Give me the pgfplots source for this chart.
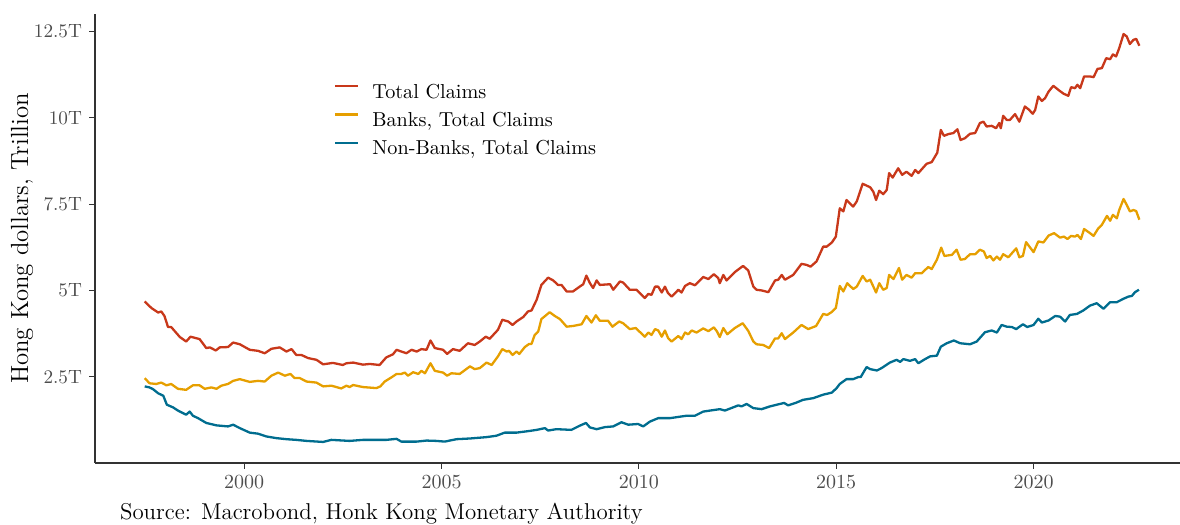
\documentclass[border=0pt]{standalone}
\usepackage{pgfplots}
\pgfplotsset{compat=1.18}

\definecolor{totc}{HTML}{C8381A}
\definecolor{bankc}{HTML}{E69F00}
\definecolor{nbankc}{HTML}{006D8F}
\definecolor{tickgray}{HTML}{4D4D4D}
\definecolor{linegray}{HTML}{333333}

\begin{document}
\begin{tikzpicture}
\useasboundingbox (-47.5pt,-31pt) rectangle (542.5pt,231.5pt);
\begin{axis}[
    scale only axis,
    width=542.5pt, height=224.5pt,
    xmin=1996.22, xmax=2023.71,
    ymin=0, ymax=13.01,
    axis x line*=bottom, axis y line*=left,
    axis line style={linegray, line width=0.6pt, -},
    tick style={linegray, line width=0.6pt},
    tick align=outside, major tick length=3pt,
    xtick={2000,2005,2010,2015,2020},
    ytick={2.5,5,7.5,10,12.5},
    yticklabels={2.5T,5T,7.5T,10T,12.5T},
    xticklabel style={/pgf/number format/1000 sep=, font=\fontsize{9.6}{11}\selectfont, text=tickgray},
    yticklabel style={font=\fontsize{9.6}{11}\selectfont, text=tickgray},
    ylabel={Hong Kong dollars, Trillion},
    ylabel style={at={(axis description cs:0,0.5)}, anchor=center, yshift=36.5pt,
        font=\fontsize{12.4}{14}\selectfont},
    legend image code/.code={\draw[#1, line width=1.1pt] (0pt,3.4pt) -- (11.5pt,3.4pt);},
    legend style={at={(axis description cs:0.2145,0.856)}, anchor=north west,
        draw=none, fill=none, font=\fontsize{10.1}{12}\selectfont,
        row sep=4.1pt, column sep=0pt,
        nodes={text height=7.5pt, text depth=2.5pt, inner ysep=0pt, inner xsep=6.5pt}},
    legend cell align=left,
    every axis plot/.append style={line width=1.15pt, no marks, line join=round},
]
\addplot[totc] coordinates {
(1997.48,4.68)(1997.65,4.49)(1997.82,4.36)(1997.90,4.39)(1997.98,4.26)(1998.07,3.94)(1998.15,3.94)(1998.37,3.65)(1998.53,3.52)(1998.64,3.66)(1998.87,3.59)(1999.04,3.33)(1999.13,3.35)(1999.28,3.26)(1999.38,3.35)(1999.59,3.36)(1999.72,3.49)(1999.89,3.44)
(2000.14,3.28)(2000.35,3.25)(2000.52,3.18)(2000.69,3.31)(2000.90,3.35)(2001.07,3.23)(2001.20,3.30)(2001.32,3.13)(2001.45,3.13)(2001.62,3.04)(2001.83,2.99)(2002.00,2.86)(2002.25,2.90)(2002.50,2.84)(2002.59,2.89)(2002.76,2.91)(2003.01,2.85)(2003.18,2.87)(2003.43,2.84)(2003.60,3.06)(2003.77,3.15)(2003.86,3.28)(2003.98,3.23)
(2004.11,3.18)(2004.24,3.28)(2004.37,3.23)(2004.49,3.30)(2004.62,3.28)(2004.72,3.55)(2004.83,3.33)(2005.04,3.28)(2005.14,3.16)(2005.29,3.30)(2005.46,3.25)(2005.67,3.47)(2005.84,3.42)(2005.97,3.52)(2006.12,3.66)(2006.22,3.60)(2006.43,3.86)(2006.54,4.15)(2006.69,4.10)(2006.80,4.00)(2006.90,4.10)
(2007.07,4.23)(2007.19,4.39)(2007.28,4.42)(2007.41,4.73)(2007.53,5.16)(2007.70,5.37)(2007.83,5.29)(2007.95,5.16)(2008.04,5.16)(2008.17,4.97)(2008.33,4.97)(2008.50,5.11)(2008.59,5.18)(2008.67,5.43)(2008.76,5.21)(2008.84,5.07)(2008.93,5.29)(2009.01,5.16)(2009.27,5.18)(2009.35,5.02)(2009.52,5.26)(2009.60,5.23)(2009.77,5.02)(2009.94,5.02)
(2010.15,4.78)(2010.24,4.90)(2010.32,4.87)(2010.41,5.11)(2010.49,5.11)(2010.58,4.94)(2010.66,5.11)(2010.74,4.92)(2010.83,4.82)(2011.00,5.02)(2011.08,4.94)(2011.17,5.13)(2011.29,5.21)(2011.42,5.15)(2011.63,5.39)(2011.76,5.33)(2011.90,5.47)(2012.01,5.36)(2012.05,5.21)(2012.14,5.45)(2012.22,5.29)(2012.43,5.53)(2012.64,5.71)(2012.77,5.58)(2012.90,5.11)(2012.98,5.02)
(2013.11,5.00)(2013.28,4.95)(2013.45,5.29)(2013.53,5.31)(2013.62,5.45)(2013.70,5.31)(2013.91,5.45)(2014.12,5.77)(2014.25,5.74)(2014.35,5.69)(2014.50,5.84)(2014.67,6.27)(2014.76,6.27)(2014.89,6.39)(2014.99,6.56)(2015.09,7.38)(2015.18,7.29)(2015.26,7.62)(2015.43,7.43)(2015.52,7.58)(2015.67,8.09)(2015.86,7.99)(2015.94,7.86)
(2016.01,7.62)(2016.09,7.89)(2016.19,7.79)(2016.28,7.91)(2016.34,8.40)(2016.43,8.27)(2016.57,8.54)(2016.67,8.35)(2016.78,8.44)(2016.91,8.32)(2017.00,8.49)(2017.08,8.40)(2017.29,8.67)(2017.42,8.72)(2017.56,8.99)(2017.65,9.65)(2017.73,9.48)(2017.84,9.53)(2017.97,9.56)(2018.07,9.67)(2018.15,9.36)(2018.26,9.41)(2018.39,9.54)(2018.52,9.56)
(2018.64,9.85)(2018.73,9.89)(2018.81,9.75)(2018.94,9.77)(2019.05,9.70)(2019.13,9.85)(2019.17,9.70)(2019.23,10.06)(2019.32,9.94)(2019.40,9.94)(2019.53,10.11)(2019.64,9.89)(2019.78,10.33)(2019.87,10.25)(2019.98,10.12)(2020.04,10.23)(2020.12,10.62)(2020.21,10.49)(2020.29,10.57)(2020.38,10.76)(2020.50,10.93)(2020.63,10.81)(2020.76,10.70)(2020.88,10.64)(2020.95,10.89)
(2021.05,10.86)(2021.11,10.96)(2021.18,10.86)(2021.28,11.20)(2021.43,11.20)(2021.52,11.18)(2021.62,11.42)(2021.73,11.44)(2021.84,11.73)(2021.94,11.70)(2022.01,11.84)(2022.09,11.78)(2022.17,12.02)(2022.28,12.43)(2022.36,12.36)(2022.44,12.14)(2022.53,12.26)(2022.60,12.29)(2022.68,12.09)
};
\addlegendentry{Total Claims}
\addplot[bankc] coordinates {
(1997.48,2.46)(1997.60,2.31)(1997.77,2.29)(1997.90,2.33)(1998.03,2.25)(1998.15,2.29)(1998.32,2.15)(1998.53,2.12)(1998.70,2.25)(1998.87,2.25)(1999.00,2.15)(1999.17,2.19)(1999.30,2.15)(1999.42,2.24)(1999.59,2.29)(1999.72,2.38)(1999.89,2.43)
(2000.14,2.35)(2000.35,2.38)(2000.52,2.36)(2000.69,2.53)(2000.86,2.62)(2001.03,2.53)(2001.17,2.58)(2001.28,2.46)(2001.41,2.46)(2001.58,2.36)(2001.83,2.33)(2002.00,2.22)(2002.21,2.24)(2002.46,2.16)(2002.59,2.24)(2002.67,2.20)(2002.76,2.26)(2003.01,2.20)(2003.35,2.17)(2003.45,2.22)(2003.56,2.36)(2003.77,2.51)(2003.86,2.58)
(2003.98,2.58)(2004.07,2.62)(2004.15,2.53)(2004.28,2.63)(2004.41,2.58)(2004.49,2.67)(2004.58,2.60)(2004.72,2.89)(2004.83,2.67)(2005.04,2.62)(2005.14,2.53)(2005.25,2.60)(2005.46,2.58)(2005.72,2.80)(2005.84,2.72)(2005.97,2.75)(2006.14,2.91)(2006.27,2.84)(2006.43,3.09)(2006.54,3.30)(2006.65,3.23)(2006.71,3.25)(2006.80,3.13)(2006.90,3.23)(2006.97,3.16)
(2007.11,3.36)(2007.22,3.45)(2007.28,3.45)(2007.36,3.71)(2007.45,3.81)(2007.53,4.17)(2007.74,4.37)(2007.87,4.26)(2008.00,4.17)(2008.17,3.95)(2008.33,3.97)(2008.55,4.02)(2008.67,4.26)(2008.80,4.07)(2008.91,4.28)(2009.01,4.12)(2009.22,4.12)(2009.33,3.95)(2009.50,4.10)(2009.60,4.05)(2009.77,3.88)(2009.92,3.91)
(2010.15,3.66)(2010.24,3.78)(2010.32,3.71)(2010.41,3.88)(2010.49,3.84)(2010.58,3.66)(2010.66,3.84)(2010.74,3.62)(2010.83,3.52)(2011.00,3.68)(2011.08,3.59)(2011.17,3.78)(2011.25,3.73)(2011.34,3.84)(2011.46,3.78)(2011.63,3.90)(2011.76,3.82)(2011.90,3.93)(2011.98,3.81)(2012.05,3.65)(2012.14,3.91)(2012.24,3.73)(2012.43,3.91)(2012.63,4.05)(2012.77,3.83)(2012.90,3.52)(2012.98,3.44)
(2013.15,3.42)(2013.30,3.33)(2013.45,3.61)(2013.53,3.61)(2013.62,3.76)(2013.70,3.59)(2013.91,3.78)(2014.12,4.00)(2014.29,3.88)(2014.49,3.97)(2014.67,4.32)(2014.77,4.29)(2014.88,4.37)(2014.99,4.49)(2015.09,5.13)(2015.18,4.97)(2015.28,5.21)(2015.43,5.04)(2015.52,5.11)(2015.67,5.42)(2015.77,5.26)(2015.86,5.31)
(2016.01,4.94)(2016.09,5.21)(2016.19,5.02)(2016.28,5.07)(2016.34,5.45)(2016.45,5.33)(2016.59,5.65)(2016.67,5.31)(2016.78,5.45)(2016.91,5.37)(2017.00,5.50)(2017.17,5.50)(2017.33,5.68)(2017.42,5.62)(2017.55,5.89)(2017.66,6.24)(2017.74,6.00)(2017.93,6.03)(2018.05,6.18)(2018.15,5.89)(2018.26,5.91)(2018.39,6.05)(2018.52,6.05)
(2018.64,6.18)(2018.74,6.13)(2018.81,5.94)(2018.90,6.00)(2018.98,5.87)(2019.07,5.98)(2019.15,5.89)(2019.23,6.05)(2019.36,5.96)(2019.56,6.22)(2019.64,5.96)(2019.73,6.00)(2019.81,6.40)(2020.00,6.11)(2020.12,6.42)(2020.25,6.39)(2020.38,6.59)(2020.52,6.66)(2020.67,6.53)(2020.77,6.56)(2020.86,6.49)(2020.95,6.58)
(2021.05,6.56)(2021.11,6.61)(2021.20,6.49)(2021.28,6.78)(2021.43,6.66)(2021.52,6.58)(2021.64,6.80)(2021.73,6.90)(2021.86,7.16)(2021.94,7.02)(2022.01,7.19)(2022.11,7.09)(2022.17,7.33)(2022.28,7.65)(2022.36,7.48)(2022.44,7.29)(2022.53,7.33)(2022.60,7.30)(2022.68,7.05)
};
\addlegendentry{Banks, Total Claims}
\addplot[nbankc] coordinates {
(1997.48,2.22)(1997.60,2.19)(1997.69,2.14)(1997.82,2.02)(1997.95,1.95)(1998.04,1.69)(1998.20,1.61)(1998.32,1.52)(1998.53,1.40)(1998.62,1.49)(1998.70,1.37)(1998.83,1.30)(1999.04,1.16)(1999.30,1.09)(1999.59,1.06)(1999.72,1.11)(1999.89,1.01)
(2000.14,0.88)(2000.35,0.85)(2000.56,0.77)(2000.82,0.72)(2001.07,0.69)(2001.32,0.67)(2001.58,0.64)(2002.00,0.61)(2002.21,0.67)(2002.67,0.64)(2003.01,0.67)(2003.60,0.67)(2003.86,0.70)(2003.98,0.62)(2004.37,0.62)(2004.62,0.65)(2004.87,0.64)(2005.08,0.62)(2005.38,0.69)(2005.72,0.71)
(2006.14,0.75)(2006.39,0.79)(2006.60,0.88)(2006.90,0.88)(2007.24,0.93)(2007.41,0.96)(2007.62,1.01)(2007.70,0.94)(2007.91,0.98)(2008.29,0.96)(2008.50,1.08)(2008.66,1.16)(2008.76,1.03)(2008.93,0.98)(2009.14,1.04)(2009.35,1.06)(2009.56,1.18)(2009.73,1.11)(2009.98,1.13)
(2010.11,1.06)(2010.28,1.20)(2010.49,1.30)(2010.79,1.30)(2011.21,1.37)(2011.42,1.37)(2011.63,1.49)(2012.05,1.56)(2012.18,1.52)(2012.52,1.67)(2012.60,1.64)(2012.73,1.71)(2012.90,1.59)(2013.11,1.56)(2013.32,1.64)(2013.57,1.71)(2013.68,1.74)(2013.78,1.67)(2013.99,1.75)
(2014.16,1.83)(2014.42,1.88)(2014.67,1.98)(2014.89,2.04)(2015.01,2.17)(2015.09,2.29)(2015.26,2.43)(2015.43,2.43)(2015.56,2.49)(2015.62,2.49)(2015.77,2.78)(2015.86,2.72)(2016.03,2.68)(2016.15,2.75)(2016.36,2.91)(2016.53,2.99)(2016.62,2.93)(2016.70,3.01)(2016.87,2.96)
(2017.00,3.01)(2017.08,2.89)(2017.25,3.01)(2017.38,3.09)(2017.55,3.11)(2017.65,3.37)(2017.80,3.47)(2017.98,3.55)(2018.14,3.47)(2018.39,3.44)(2018.56,3.52)(2018.77,3.79)(2018.94,3.84)(2019.07,3.78)(2019.19,4.00)(2019.32,3.95)(2019.45,3.94)(2019.56,3.88)(2019.73,4.02)(2019.84,3.94)
(2020.00,4.00)(2020.12,4.18)(2020.21,4.07)(2020.38,4.13)(2020.55,4.26)(2020.67,4.24)(2020.80,4.10)(2020.92,4.29)(2021.10,4.32)(2021.26,4.42)(2021.43,4.56)(2021.60,4.63)(2021.77,4.47)(2021.94,4.66)(2022.11,4.66)(2022.28,4.76)(2022.40,4.82)(2022.49,4.84)(2022.57,4.95)(2022.67,5.02)
};
\addlegendentry{Non-Banks, Total Claims}
\end{axis}
\node[anchor=base west, font=\fontsize{11.45}{13}\selectfont] at (9pt,-28.5pt)
    {Source: Macrobond, Honk Kong Monetary Authority};
\end{tikzpicture}
\end{document}
